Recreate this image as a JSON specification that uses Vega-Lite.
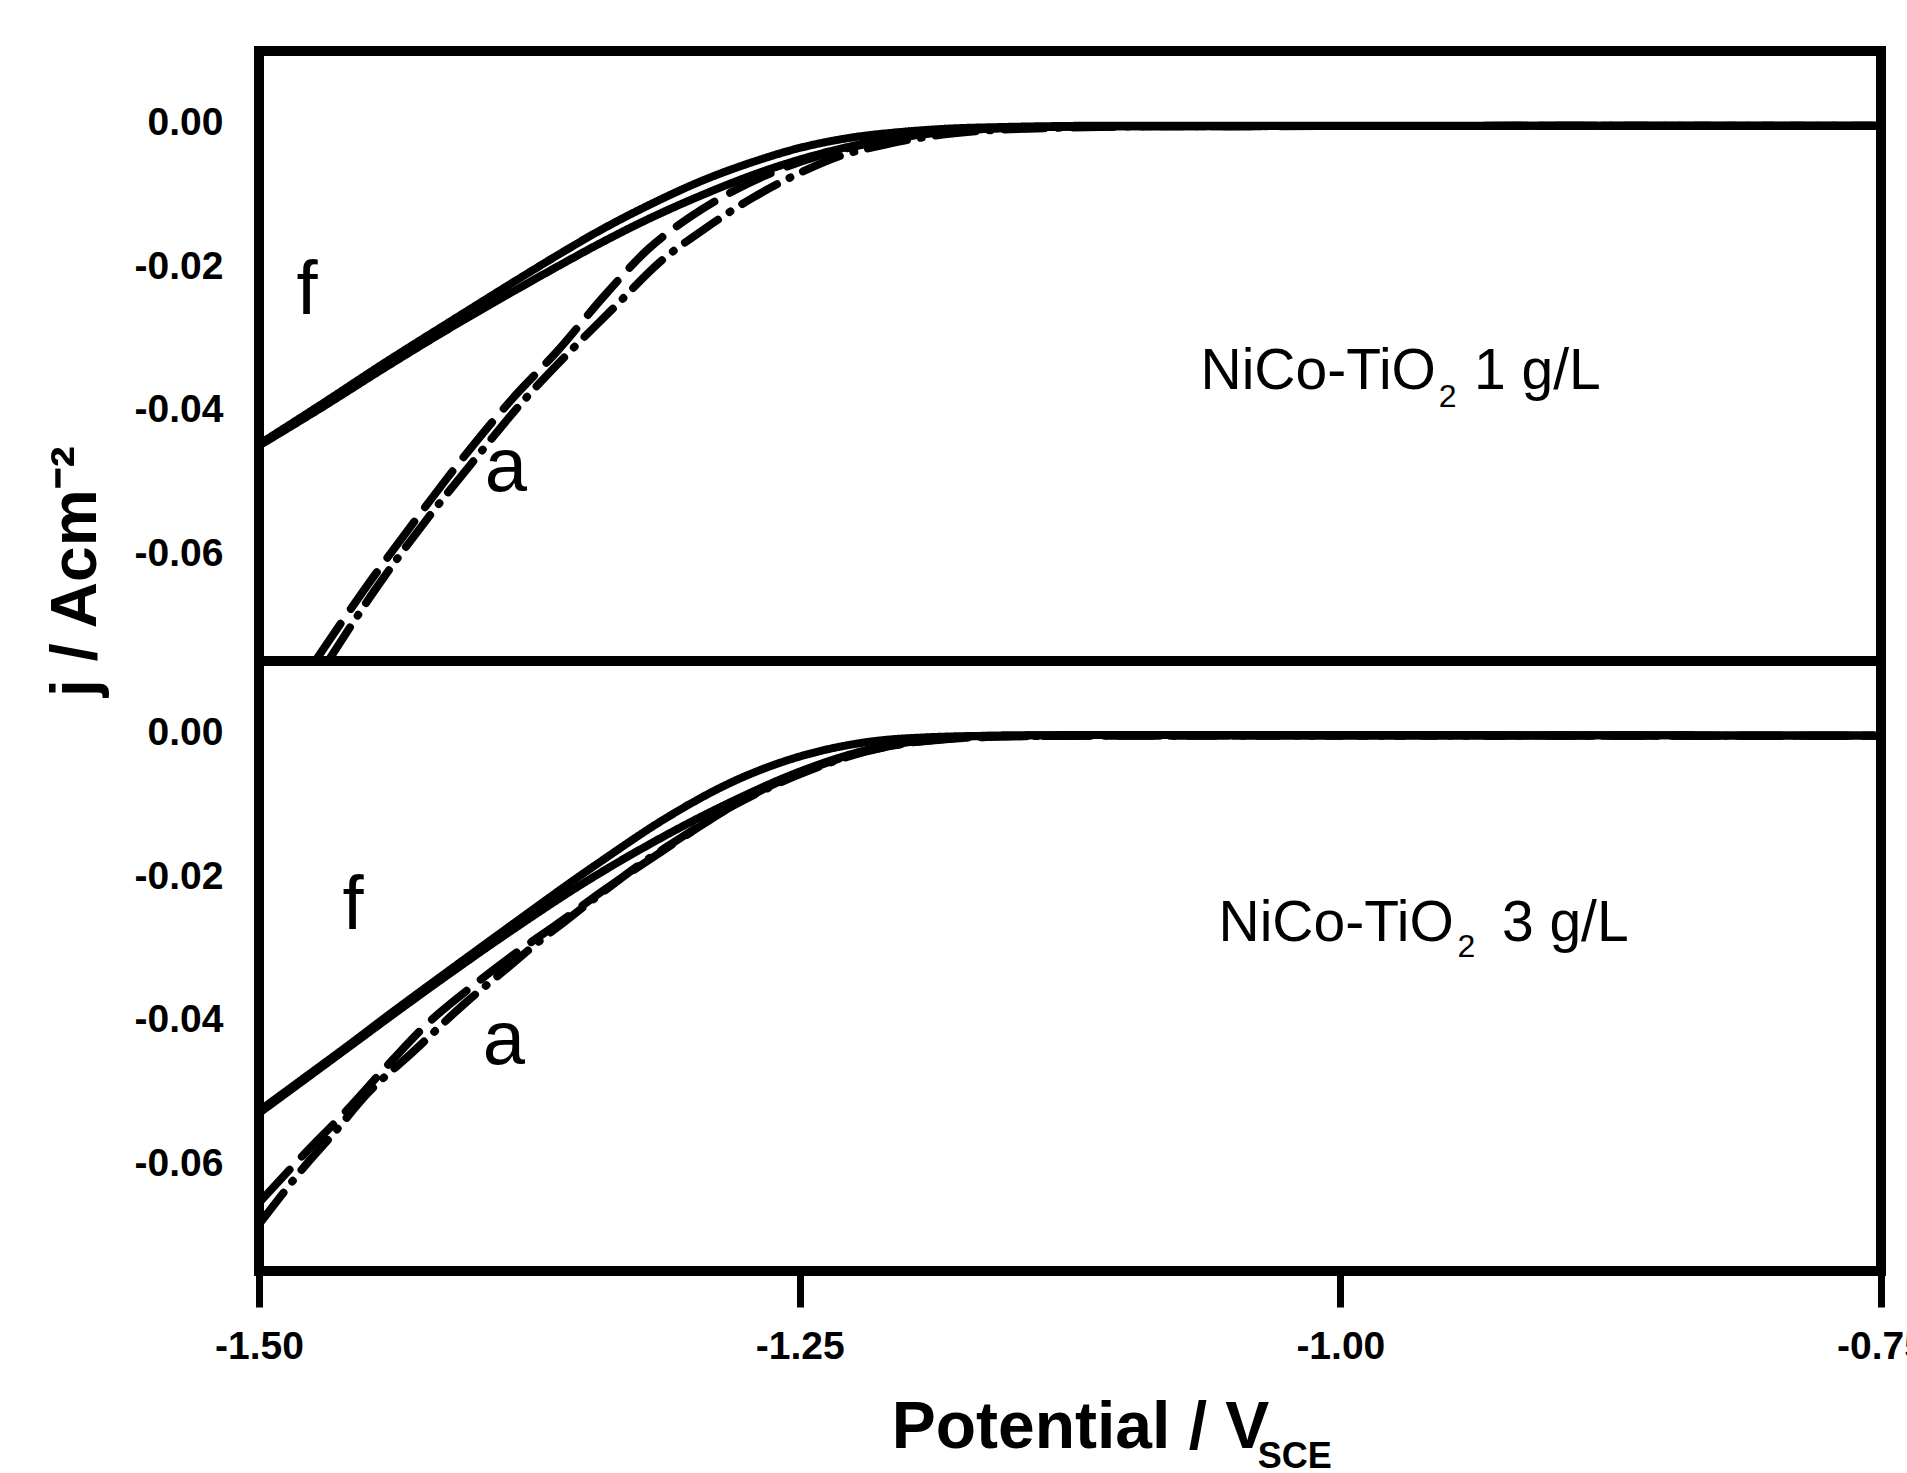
{
  "$schema": "https://vega.github.io/schema/vega-lite/v6.json",
  "padding": {"left": 39, "top": 46, "right": 0, "bottom": 0},
  "background": "white",
  "spacing": 0,
  "bounds": "flush",
  "config": {
    "view": {"stroke": "black", "strokeWidth": 10},
    "font": "Liberation Sans",
    "axis": {"grid": false, "domain": false, "labelFont": "Liberation Sans", "labelFontWeight": "bold", "labelFontSize": 39, "labelColor": "black", "titleColor": "black", "titleFont": "Liberation Sans"}
  },
  "datasets": {
    "top": [
      {"s": "f", "V": -1.5, "j": -0.0448}, {"s": "f", "V": -1.47, "j": -0.039}, {"s": "f", "V": -1.4427, "j": -0.0336}, {"s": "f", "V": -1.41, "j": -0.0274}, {"s": "f", "V": -1.3807, "j": -0.0219}, {"s": "f", "V": -1.36, "j": -0.0181}, {"s": "f", "V": -1.3423, "j": -0.015}, {"s": "f", "V": -1.3192, "j": -0.0114}, {"s": "f", "V": -1.2961, "j": -0.0082}, {"s": "f", "V": -1.27, "j": -0.0053}, {"s": "f", "V": -1.2499, "j": -0.0035}, {"s": "f", "V": -1.2268, "j": -0.0021}, {"s": "f", "V": -1.2036, "j": -0.0013}, {"s": "f", "V": -1.18, "j": -0.0008}, {"s": "f", "V": -1.1574, "j": -0.0006}, {"s": "f", "V": -1.1, "j": -0.0004}, {"s": "f", "V": -0.75, "j": -0.0004},
      {"s": "c", "V": -1.5, "j": -0.045}, {"s": "c", "V": -1.47, "j": -0.0395}, {"s": "c", "V": -1.4427, "j": -0.0343}, {"s": "c", "V": -1.41, "j": -0.0283}, {"s": "c", "V": -1.3807, "j": -0.0232}, {"s": "c", "V": -1.36, "j": -0.0197}, {"s": "c", "V": -1.3423, "j": -0.0168}, {"s": "c", "V": -1.3192, "j": -0.0133}, {"s": "c", "V": -1.2961, "j": -0.0102}, {"s": "c", "V": -1.2653, "j": -0.0066}, {"s": "c", "V": -1.235, "j": -0.0039}, {"s": "c", "V": -1.21, "j": -0.0023}, {"s": "c", "V": -1.18, "j": -0.0012}, {"s": "c", "V": -1.15, "j": -0.0007}, {"s": "c", "V": -1.1, "j": -0.0005}, {"s": "c", "V": -0.75, "j": -0.0004},
      {"s": "b", "V": -1.474, "j": -0.075}, {"s": "b", "V": -1.45, "j": -0.0645}, {"s": "b", "V": -1.428, "j": -0.0555}, {"s": "b", "V": -1.407, "j": -0.0472}, {"s": "b", "V": -1.383, "j": -0.0385}, {"s": "b", "V": -1.362, "j": -0.0318}, {"s": "b", "V": -1.34, "j": -0.024}, {"s": "b", "V": -1.32, "j": -0.0176}, {"s": "b", "V": -1.3, "j": -0.013}, {"s": "b", "V": -1.28, "j": -0.0094}, {"s": "b", "V": -1.26, "j": -0.0066}, {"s": "b", "V": -1.24, "j": -0.0045}, {"s": "b", "V": -1.22, "j": -0.003}, {"s": "b", "V": -1.2, "j": -0.0019}, {"s": "b", "V": -1.18, "j": -0.0012}, {"s": "b", "V": -1.15, "j": -0.0007}, {"s": "b", "V": -1.1, "j": -0.0005}, {"s": "b", "V": -0.75, "j": -0.0004},
      {"s": "a", "V": -1.468, "j": -0.075}, {"s": "a", "V": -1.445, "j": -0.0645}, {"s": "a", "V": -1.423, "j": -0.0555}, {"s": "a", "V": -1.401, "j": -0.0472}, {"s": "a", "V": -1.377, "j": -0.0385}, {"s": "a", "V": -1.356, "j": -0.0318}, {"s": "a", "V": -1.335, "j": -0.0255}, {"s": "a", "V": -1.315, "j": -0.0195}, {"s": "a", "V": -1.295, "j": -0.015}, {"s": "a", "V": -1.272, "j": -0.0105}, {"s": "a", "V": -1.25, "j": -0.007}, {"s": "a", "V": -1.232, "j": -0.0047}, {"s": "a", "V": -1.21, "j": -0.003}, {"s": "a", "V": -1.19, "j": -0.0019}, {"s": "a", "V": -1.165, "j": -0.0011}, {"s": "a", "V": -1.13, "j": -0.0007}, {"s": "a", "V": -1.08, "j": -0.0005}, {"s": "a", "V": -0.75, "j": -0.0004}
    ],
    "bottom": [
      {"s": "f", "V": -1.5, "j": -0.0527}, {"s": "f", "V": -1.481, "j": -0.0485}, {"s": "f", "V": -1.458, "j": -0.0434}, {"s": "f", "V": -1.44, "j": -0.0393}, {"s": "f", "V": -1.412, "j": -0.0331}, {"s": "f", "V": -1.381, "j": -0.0263}, {"s": "f", "V": -1.35, "j": -0.0196}, {"s": "f", "V": -1.3423, "j": -0.018}, {"s": "f", "V": -1.3113, "j": -0.0118}, {"s": "f", "V": -1.2808, "j": -0.0068}, {"s": "f", "V": -1.2499, "j": -0.0033}, {"s": "f", "V": -1.2189, "j": -0.0013}, {"s": "f", "V": -1.1884, "j": -0.0006}, {"s": "f", "V": -1.157, "j": -0.0004}, {"s": "f", "V": -1.1, "j": -0.0003}, {"s": "f", "V": -0.75, "j": -0.0004},
      {"s": "c", "V": -1.5, "j": -0.053}, {"s": "c", "V": -1.481, "j": -0.0488}, {"s": "c", "V": -1.458, "j": -0.0437}, {"s": "c", "V": -1.44, "j": -0.0397}, {"s": "c", "V": -1.412, "j": -0.0336}, {"s": "c", "V": -1.381, "j": -0.0271}, {"s": "c", "V": -1.3502, "j": -0.021}, {"s": "c", "V": -1.3192, "j": -0.0155}, {"s": "c", "V": -1.2808, "j": -0.0095}, {"s": "c", "V": -1.2499, "j": -0.0054}, {"s": "c", "V": -1.2189, "j": -0.0024}, {"s": "c", "V": -1.1884, "j": -0.0009}, {"s": "c", "V": -1.157, "j": -0.0004}, {"s": "c", "V": -1.1, "j": -0.0003}, {"s": "c", "V": -0.75, "j": -0.0004},
      {"s": "a", "V": -1.5, "j": -0.0685}, {"s": "a", "V": -1.49, "j": -0.0646}, {"s": "a", "V": -1.48, "j": -0.0608}, {"s": "a", "V": -1.466, "j": -0.056}, {"s": "a", "V": -1.449, "j": -0.05}, {"s": "a", "V": -1.43, "j": -0.0448}, {"s": "a", "V": -1.404, "j": -0.0375}, {"s": "a", "V": -1.384, "j": -0.0325}, {"s": "a", "V": -1.371, "j": -0.0292}, {"s": "a", "V": -1.359, "j": -0.0264}, {"s": "a", "V": -1.341, "j": -0.0222}, {"s": "a", "V": -1.325, "j": -0.0186}, {"s": "a", "V": -1.311, "j": -0.0158}, {"s": "a", "V": -1.281, "j": -0.0102}, {"s": "a", "V": -1.25, "j": -0.0058}, {"s": "a", "V": -1.219, "j": -0.0026}, {"s": "a", "V": -1.188, "j": -0.001}, {"s": "a", "V": -1.15, "j": -0.0005}, {"s": "a", "V": -1.1, "j": -0.0004}, {"s": "a", "V": -0.75, "j": -0.0004},
      {"s": "b", "V": -1.5, "j": -0.0655}, {"s": "b", "V": -1.48, "j": -0.059}, {"s": "b", "V": -1.46, "j": -0.0528}, {"s": "b", "V": -1.438, "j": -0.0455}, {"s": "b", "V": -1.422, "j": -0.0405}, {"s": "b", "V": -1.4, "j": -0.035}, {"s": "b", "V": -1.384, "j": -0.0313}, {"s": "b", "V": -1.36, "j": -0.0262}, {"s": "b", "V": -1.34, "j": -0.0218}, {"s": "b", "V": -1.32, "j": -0.0178}, {"s": "b", "V": -1.3, "j": -0.0138}, {"s": "b", "V": -1.28, "j": -0.01}, {"s": "b", "V": -1.25, "j": -0.0056}, {"s": "b", "V": -1.22, "j": -0.0026}, {"s": "b", "V": -1.19, "j": -0.0011}, {"s": "b", "V": -1.15, "j": -0.0005}, {"s": "b", "V": -1.1, "j": -0.0004}, {"s": "b", "V": -0.75, "j": -0.0004}
    ],
    "topLetters": [{"t": "f", "V": -1.4778, "j": -0.0267}, {"t": "a", "V": -1.3858, "j": -0.0513}],
    "topMain": [{"t": "NiCo-TiO", "V": -0.9558, "j": -0.0371}],
    "topSub": [{"t": "2", "V": -0.9545, "j": -0.0396}],
    "topConc": [{"t": "1 g/L", "V": -0.9382, "j": -0.0371}],
    "botLetters": [{"t": "f", "V": -1.4565, "j": -0.0274}, {"t": "a", "V": -1.3868, "j": -0.0461}],
    "botMain": [{"t": "NiCo-TiO", "V": -0.9475, "j": -0.029}],
    "botSub": [{"t": "2", "V": -0.9458, "j": -0.0313}],
    "botConc": [{"t": "3 g/L", "V": -0.9253, "j": -0.029}],
    "sce": [{"t": "SCE", "V": -1.0382, "j": -0.1024}]
  },
  "vconcat": [
    {
      "width": 1622,
      "height": 610,
      "encoding": {
        "x": {"field": "V", "type": "quantitative", "scale": {"domain": [-1.5, -0.75], "nice": false, "zero": false}, "axis": null},
        "y": {"field": "j", "type": "quantitative", "scale": {"domain": [-0.075, 0.01], "nice": false, "zero": false},
          "axis": {"values": [0, -0.02, -0.04, -0.06], "format": ".2f", "labelExpr": "replace(datum.label, '\u2212', '-')", "ticks": false, "tickSize": 0, "labelPadding": 36,
            "title": "j / Acm\u207b\u00b2", "titleFontSize": 64, "titleFontWeight": "bold", "titleAngle": 270, "titleX": -164, "titleY": 520, "titleAlign": "center", "titleBaseline": "alphabetic"}}
      },
      "layer": [
        {
          "data": {"name": "top"},
          "mark": {"type": "line", "color": "black", "strokeWidth": 8, "interpolate": "monotone", "strokeCap": "round", "clip": true},
          "encoding": {
            "strokeDash": {"field": "s", "type": "nominal", "scale": {"domain": ["a", "b", "c", "f"], "range": [[40, 14, 1, 14], [45, 18], [1, 0], [1, 0]]}, "legend": null}
          }
        },
        {"data": {"name": "topLetters"}, "mark": {"type": "text", "fontSize": 76, "align": "center", "baseline": "alphabetic", "color": "black"}, "encoding": {"text": {"field": "t"}}},
        {"data": {"name": "topMain"}, "mark": {"type": "text", "fontSize": 57, "align": "right", "baseline": "alphabetic", "color": "black"}, "encoding": {"text": {"field": "t"}}},
        {"data": {"name": "topSub"}, "mark": {"type": "text", "fontSize": 32, "align": "left", "baseline": "alphabetic", "color": "black"}, "encoding": {"text": {"field": "t"}}},
        {"data": {"name": "topConc"}, "mark": {"type": "text", "fontSize": 57, "align": "left", "baseline": "alphabetic", "color": "black"}, "encoding": {"text": {"field": "t"}}}
      ]
    },
    {
      "width": 1622,
      "height": 610,
      "encoding": {
        "x": {"field": "V", "type": "quantitative", "scale": {"domain": [-1.5, -0.75], "nice": false, "zero": false},
          "axis": {"values": [-1.5, -1.25, -1.0, -0.75], "format": ".2f", "labelExpr": "replace(datum.label, '\u2212', '-')", "ticks": true, "tickSize": 36, "tickWidth": 7, "tickColor": "black", "labelPadding": 20, "labelFlush": false, "labelOverlap": false, "labelBound": false,
            "title": "Potential / V", "titleFontSize": 66, "titleFontWeight": "bold", "titleX": 821, "titleY": 176, "titleAlign": "center", "titleBaseline": "alphabetic"}},
        "y": {"field": "j", "type": "quantitative", "scale": {"domain": [-0.075, 0.01], "nice": false, "zero": false},
          "axis": {"values": [0, -0.02, -0.04, -0.06], "format": ".2f", "labelExpr": "replace(datum.label, '\u2212', '-')", "ticks": false, "tickSize": 0, "labelPadding": 36, "title": null}}
      },
      "layer": [
        {
          "data": {"name": "bottom"},
          "mark": {"type": "line", "color": "black", "strokeWidth": 8, "interpolate": "monotone", "strokeCap": "round", "clip": true},
          "encoding": {
            "strokeDash": {"field": "s", "type": "nominal", "scale": {"domain": ["a", "b", "c", "f"], "range": [[40, 14, 1, 14], [45, 18], [1, 0], [1, 0]]}, "legend": null}
          }
        },
        {"data": {"name": "botLetters"}, "mark": {"type": "text", "fontSize": 76, "align": "center", "baseline": "alphabetic", "color": "black"}, "encoding": {"text": {"field": "t"}}},
        {"data": {"name": "botMain"}, "mark": {"type": "text", "fontSize": 57, "align": "right", "baseline": "alphabetic", "color": "black"}, "encoding": {"text": {"field": "t"}}},
        {"data": {"name": "botSub"}, "mark": {"type": "text", "fontSize": 32, "align": "left", "baseline": "alphabetic", "color": "black"}, "encoding": {"text": {"field": "t"}}},
        {"data": {"name": "botConc"}, "mark": {"type": "text", "fontSize": 57, "align": "left", "baseline": "alphabetic", "color": "black"}, "encoding": {"text": {"field": "t"}}},
        {"data": {"name": "sce"}, "mark": {"type": "text", "fontSize": 36, "fontWeight": "bold", "align": "left", "baseline": "alphabetic", "color": "black"}, "encoding": {"text": {"field": "t"}}}
      ]
    }
  ]
}
